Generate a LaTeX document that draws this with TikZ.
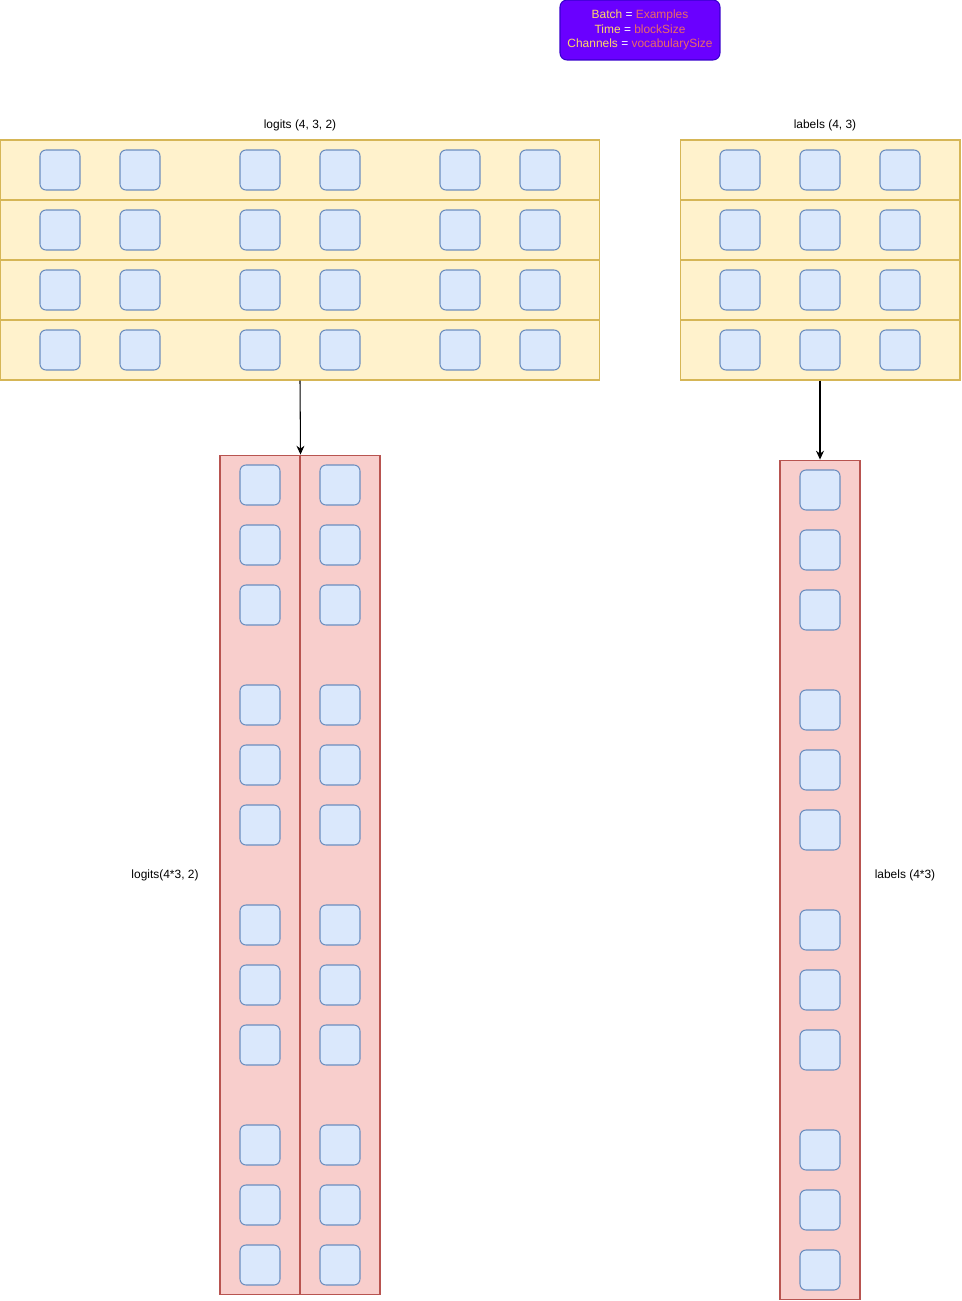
\documentclass[tikz,border=0pt]{standalone}
\usepackage{fontspec}
\setmainfont{Liberation Sans}
\usepackage{tikz}
\usetikzlibrary{arrows.meta, positioning}

\definecolor{rowfill}{HTML}{FFF2CC}
\definecolor{rowline}{HTML}{D6B656}
\definecolor{cellfill}{HTML}{DAE8FC}
\definecolor{cellline}{HTML}{6C8EBF}
\definecolor{colfill}{HTML}{F8CECC}
\definecolor{colline}{HTML}{B85450}
\definecolor{keyfill}{HTML}{6A00FF}
\definecolor{keyline}{HTML}{3700CC}
\definecolor{keyname}{HTML}{FFD966}
\definecolor{keyvalue}{HTML}{EA6B66}

\begin{document}
\begin{tikzpicture}[x=0.02cm, y=-0.02cm,
                font=\fontsize{6.8}{8}\selectfont,
                row box/.style={draw=rowline, fill=rowfill, line width=0.6pt, minimum height=1.2cm, inner sep=0pt},
                col box/.style={draw=colline, fill=colfill, line width=0.6pt, minimum width=1.6cm, minimum height=16.8cm, inner sep=0pt},
                cell/.style={draw=cellline, fill=cellfill, line width=0.6pt, rounded corners=0.12cm, minimum size=0.8cm, inner sep=0pt},
                title/.style={inner sep=0pt}]

                \useasboundingbox (0,0) rectangle (961,1301);

                % Legend
                \node[draw=keyline, fill=keyfill, line width=0.6pt, rounded corners=0.14cm,
                      minimum width=3.2cm, minimum height=1.2cm, align=center, inner sep=0pt,
                      font=\fontsize{6.8}{8.2}\selectfont] (key) at (640,30)
                    {\textcolor{keyname}{Batch} \textcolor{white}{=} \textcolor{keyvalue}{Examples}\\
                     \textcolor{keyname}{Time} \textcolor{white}{=} \textcolor{keyvalue}{blockSize}\\
                     \textcolor{keyname}{Channels} \textcolor{white}{=} \textcolor{keyvalue}{vocabularySize}};

                % logits (4, 3, 2) rows
                \foreach \r in {1,...,4}
                    \node[row box, minimum width=12cm] (lgrow\r) at (300,{110+60*\r}) {};
                % labels (4, 3) rows
                \foreach \r in {1,...,4}
                    \node[row box, minimum width=5.6cm] (lbrow\r) at (820,{110+60*\r}) {};

                \node[title] (lgtitle) at (300,125) {logits (4, 3, 2)};
                \node[title] (lbtitle) at (825,125) {labels (4, 3)};

                % cells of the two tensors
                \foreach \r in {1,...,4} {
                    \foreach \t in {0,1,2}
                        \foreach \c in {0,1}
                            \node[cell] (lg-\r-\t-\c) at ({60+200*\t+80*\c},{110+60*\r}) {};
                    \foreach \c in {0,1,2}
                        \node[cell] (lb-\r-\c) at ({740+80*\c},{110+60*\r}) {};
                }

                % flattened logits(4*3, 2)
                \node[col box] (lgcol1) at (260,875) {};
                \node[col box] (lgcol2) at (340,875) {};
                \foreach \g in {0,...,3}
                    \foreach \k in {0,1,2}
                        \foreach \c in {0,1}
                            \node[cell] (lgf-\g-\k-\c) at ({260+80*\c},{485+220*\g+60*\k}) {};

                % flattened labels (4*3)
                \node[col box] (lbcol) at (820,880) {};
                \foreach \g in {0,...,3}
                    \foreach \k in {0,1,2}
                        \node[cell] (lbf-\g-\k) at (820,{490+220*\g+60*\k}) {};

                \node[title] (lgflat) at (165,875) {logits(4*3, 2)};
                \node[title] (lbflat) at (905,875) {labels (4*3)};

                % reshape arrows
                \draw[-{Stealth[length=5pt, width=4.5pt]}, line width=0.6pt] (lgrow4.south) -- (lgcol1.north east);
                \draw[-{Stealth[length=5pt, width=4.5pt]}, line width=0.6pt] (lbrow4.south) -- (lbcol.north);
\end{tikzpicture}
\end{document}
